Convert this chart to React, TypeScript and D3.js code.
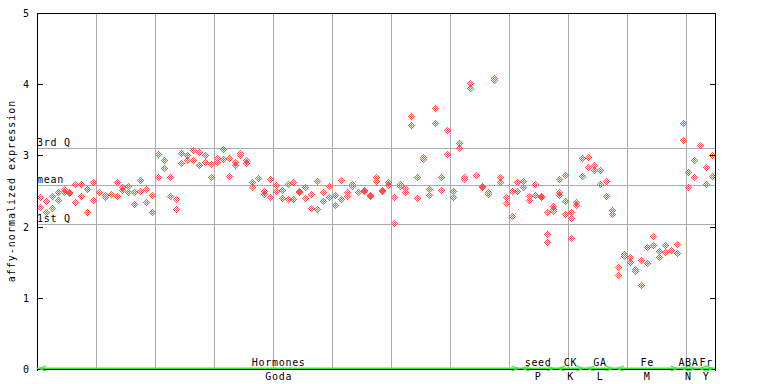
import React from "react";
import * as d3 from "d3";

// replicate values per sample column (affy-normalized expression)
const replicates: number[][] = [
  [2.42, 2.28], [2.36, 2.21], [2.43, 2.26], [2.48, 2.38], [2.53, 2.48],
  [2.48, 2.47], [2.60, 2.34], [2.60, 2.43], [2.53, 2.21], [2.63, 2.38],
  [2.49, 2.49], [2.44, 2.42], [2.46, 2.46], [2.63, 2.43], [2.55, 2.51],
  [2.57, 2.49], [2.48, 2.32], [2.66, 2.50], [2.53, 2.35], [2.45, 2.21],
  [3.02, 2.69], [2.93, 2.83], [2.70, 2.43], [2.39, 2.25], [3.04, 2.90],
  [3.00, 2.93], [3.08, 2.94], [3.05, 2.86], [3.01, 2.91], [2.88, 2.70],
  [2.97, 2.91], [3.09, 2.95], [2.97, 2.71], [2.91, 2.87], [3.04, 3.01],
  [2.94, 2.90], [2.63, 2.55], [2.68, 2.68], [2.50, 2.46], [2.67, 2.42],
  [2.59, 2.50], [2.52, 2.40], [2.60, 2.39], [2.63, 2.39], [2.50, 2.49],
  [2.55, 2.40], [2.46, 2.26], [2.64, 2.25], [2.49, 2.36], [2.57, 2.42],
  [2.45, 2.31], [2.66, 2.39], [2.48, 2.43], [2.60, 2.57], [2.49, 2.48],
  [2.51, 2.50], [2.44, 2.43], [2.70, 2.64], [2.52, 2.50], [2.63, 2.59],
  [2.42, 2.05], [2.60, 2.57], [2.54, 2.49], [3.55, 3.42], [2.69, 2.40],
  [2.98, 2.95], [2.53, 2.45], [3.67, 3.46], [2.69, 2.51], [3.35, 3.02],
  [2.50, 2.42], [3.18, 3.11], [2.69, 2.67], [4.01, 3.95], [2.73, 2.72],
  [2.57, 2.55], [2.48, 2.46], [4.09, 4.06], [2.69, 2.63], [2.42, 2.33],
  [2.50, 2.15], [2.63, 2.50], [2.64, 2.56], [2.43, 2.38], [2.60, 2.45],
  [2.43, 2.42], [2.21, 1.90, 1.79], [2.29, 2.25, 2.22], [2.67, 2.48, 2.45], [2.73, 2.36, 2.18],
  [2.21, 2.12, 1.84], [2.34, 2.31], [2.97, 2.71], [2.98, 2.84], [2.86, 2.80],
  [2.80, 2.60], [2.64, 2.43], [2.24, 2.17], [1.43, 1.32], [1.62, 1.59],
  [1.57, 1.50], [1.40, 1.38], [1.53, 1.18], [1.71, 1.49], [1.87, 1.74],
  [1.66, 1.57], [1.74, 1.64], [1.67, 1.67], [1.76, 1.63], [3.45, 3.22],
  [2.77, 2.56], [2.94, 2.70], [3.14, 3.14], [2.84, 2.60], [3.01, 2.71],
];

// experiment groups along the x axis (first/last sample column)
const groupNames = ["Hormones", "seed", "CK", "GA", "Fe", "ABA", "Fr"];
const groupSubs = ["Goda", "P", "K", "L", "M", "N", "Y"];
const groupFirst = [0, 82, 88, 93, 98, 109, 112];
const groupLast = [81, 87, 92, 97, 108, 111, 114];

const yTicks = [0, 1, 2, 3, 4, 5];
const statNames = ["3rd Q", "mean", "1st Q"];
const statValues = [3.108, 2.588, 2.042];

const W = 768;
const H = 384;
const left = 37;
const right = 715;
const font = "DejaVu Sans Mono";
const red = "#ff5050";
const green = "#3ce63c";
const grid = "#aaaaaa";

// checkered diamond, 7x7 px
const diamond: [number, number][] = [];
for (let dx = -3; dx <= 3; dx++)
  for (let dy = -3; dy <= 3; dy++)
    if (Math.abs(dx) + Math.abs(dy) <= 3 && Math.abs(dx + dy) % 2 === 1) diamond.push([dx, dy]);

export default function App() {
  const x = d3.scaleBand<number>().domain(d3.range(replicates.length)).range([left, right]);
  const y = d3.scaleLinear().domain([0, 5]).range([369.5, 13.5]);
  const bw = x.bandwidth();
  const hy = (v: number) => Math.floor(y(v)) + 0.5;
  const top = hy(5);
  const bottom = hy(0);

  // all diamond pixels in one path
  let dots = "";
  replicates.forEach((vals, k) => {
    const cx = Math.round((x(k) as number) + bw / 2);
    vals.forEach((v) => {
      const cy = Math.floor(y(v));
      diamond.forEach(([dx, dy]) => {
        dots += `M${cx + dx},${cy + dy}h1v1h-1z`;
      });
    });
  });

  const vgrid = d3.range(10, replicates.length, 10).map((k) => Math.round(x(k) as number) + 0.5);
  const txt = { fontFamily: font, fontSize: 10, letterSpacing: 0.7 } as const;

  return (
    <div style={{ position: "fixed", left: 0, top: 0, width: W, height: H, background: "#fff" }}>
      <svg width={W} height={H} style={{ display: "block" }}>
        <g shapeRendering="crispEdges">
          {vgrid.map((gx, i) => (
            <line key={i} x1={gx} x2={gx} y1={top} y2={bottom} stroke={grid} />
          ))}
          {statValues.map((v, i) => (
            <line key={i} x1={left} x2={right} y1={hy(v)} y2={hy(v)} stroke={grid} />
          ))}
        </g>
        {statValues.map((v, i) => (
          <text key={i} x={left} y={hy(v) - 2.5} {...txt} fill="#000">
            {statNames[i]}
          </text>
        ))}
        <path d={dots} fill={red} shapeRendering="crispEdges" />
        <g shapeRendering="crispEdges" stroke="#000">
          <line x1={left + 0.5} x2={left + 0.5} y1={top} y2={bottom + 1} />
          <line x1={right + 0.5} x2={right + 0.5} y1={top} y2={bottom + 1} />
          <line x1={left} x2={right + 1} y1={top} y2={top} />
          <line x1={left} x2={right + 1} y1={bottom} y2={bottom} />
          {yTicks.map((t) => (
            <g key={t}>
              <line x1={left} x2={left + 6} y1={hy(t)} y2={hy(t)} />
              <line x1={right - 5} x2={right} y1={hy(t)} y2={hy(t)} />
            </g>
          ))}
        </g>
        {yTicks.map((t) => (
          <text key={t} x={29} y={hy(t) + 3.5} {...txt} letterSpacing={0} textAnchor="end" fill="#000">
            {t}
          </text>
        ))}
        <text
          transform={`translate(14.5,191) rotate(-90)`}
          textAnchor="middle"
          fontFamily={font}
          fontSize={10}
          letterSpacing={1}
          fill="#000"
        >
          affy-normalized expression
        </text>
        <line x1={left} x2={right} y1={368.25} y2={368.25} stroke={green} strokeWidth={1.5} />
        {groupNames.map((g, i) => {
          const x0 = x(groupFirst[i]) as number;
          const x1 = (x(groupLast[i]) as number) + bw;
          const cx = (x0 + x1) / 2;
          return (
            <g key={g}>
              <path
                d={`M${x0 + 9},366L${x0 + 2},368.5L${x0 + 9},371M${x1 - 9},366L${x1 - 2},368.5L${x1 - 9},371`}
                fill="none"
                stroke={green}
                strokeWidth={1.2}
              />
              <text x={cx} y={366} {...txt} textAnchor="middle" fill="#000">
                {g}
              </text>
              <text x={cx} y={380} {...txt} textAnchor="middle" fill="#000">
                {groupSubs[i]}
              </text>
            </g>
          );
        })}
      </svg>
    </div>
  );
}
